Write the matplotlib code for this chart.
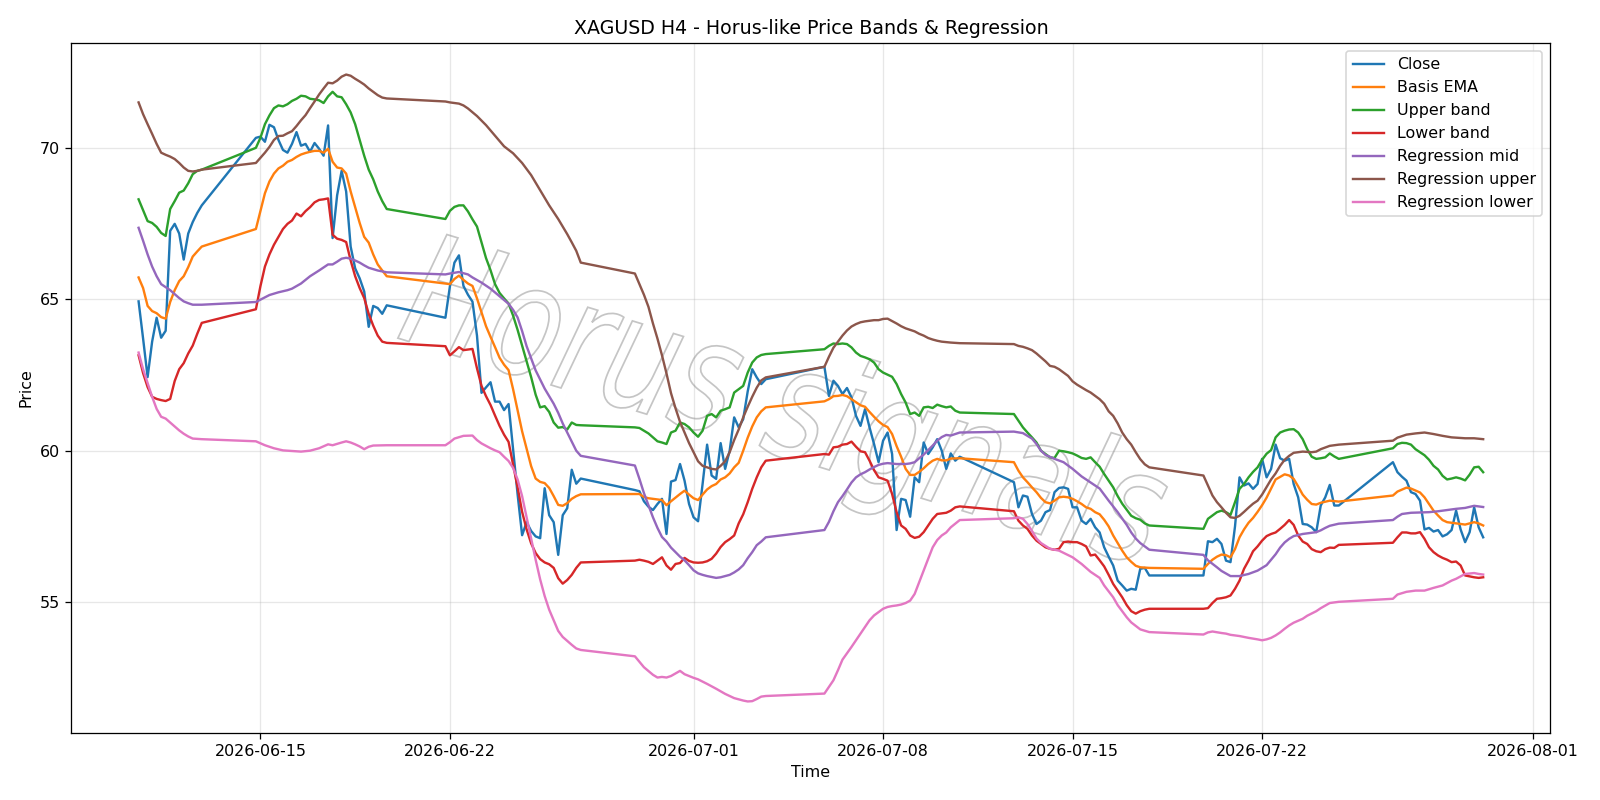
import numpy as np
import pandas as pd
import matplotlib
matplotlib.use('Agg')
import matplotlib.pyplot as plt
from matplotlib.textpath import TextPath
from matplotlib.patches import PathPatch
from matplotlib.font_manager import FontProperties
from matplotlib.transforms import Affine2D

# H4 sessions: first bar of each trading week and number of bars in it
week_start = ['2026-06-10 12:00', '2026-06-14 20:00', '2026-06-21 20:00', '2026-06-28 20:00',
              '2026-07-05 20:00', '2026-07-12 20:00', '2026-07-19 20:00', '2026-07-26 20:00']
week_bars = [15, 30, 31, 30, 31, 31, 31, 21]

# close, one value per bar
close = [
    64.93, 63.70, 62.43, 63.60, 64.39, 63.73, 63.96, 67.26, 67.49, 67.17, 66.31, 67.17, 67.55, 67.85, 68.10,
    70.33, 70.37, 70.20, 70.76, 70.68, 70.26, 69.93, 69.84, 70.13, 70.52, 70.07, 70.13, 69.87, 70.16, 69.97,
    69.74, 70.74, 67.02, 68.43, 69.24, 68.56, 66.74, 66.02, 65.69, 65.26, 64.09, 64.78, 64.71, 64.52, 64.80,
    64.39, 65.43, 66.21, 66.45, 65.44, 65.15, 64.92, 63.80, 61.91, 62.09, 62.26, 61.62, 61.62, 61.34, 61.54,
    60.06, 58.56, 57.21, 57.64, 57.35, 57.17, 57.11, 58.76, 57.87, 57.64, 56.56, 57.87, 58.10, 59.37, 58.91, 59.08,
    58.70, 58.66, 58.33, 58.15, 58.04, 58.24, 58.41, 57.25, 58.98, 59.03, 59.56, 59.01, 58.24, 57.80, 57.67,
    58.90, 60.20, 59.18, 59.07, 60.25, 59.40, 60.00, 61.10, 60.77, 61.04, 61.96, 62.69, 62.42, 62.20, 62.36,
    62.77, 61.81, 62.31, 62.14, 61.87, 62.07, 61.76, 61.15, 60.82, 61.37, 60.77, 60.22, 59.62, 60.33, 60.60,
    59.89, 57.38, 58.41, 58.37, 57.82, 59.12, 58.96, 60.27, 59.89, 60.11, 60.38, 60.00, 59.40, 59.91, 59.67, 59.80,
    58.96, 58.13, 58.52, 58.48, 57.91, 57.58, 57.69, 57.97, 58.04, 58.63, 58.77, 58.79, 58.74, 58.13, 58.13,
    57.69, 57.58, 57.75, 57.47, 57.30, 56.81, 56.50, 56.21, 55.71, 55.55, 55.38, 55.44, 55.41, 56.10, 56.13, 55.88,
    55.88, 57.01, 56.98, 57.09, 56.92, 56.37, 56.32, 57.50, 59.12, 58.85, 58.92, 58.74, 58.90, 59.73, 59.12,
    59.40, 60.20, 59.75, 59.67, 59.73, 58.90, 58.46, 57.58, 57.56, 57.47, 57.31, 58.19, 58.46, 58.87, 58.19, 58.19,
    59.62, 59.29, 59.14, 59.01, 58.63, 58.57, 58.35, 57.40, 57.45, 57.33, 57.38, 57.17, 57.24, 57.38, 58.02,
    57.40, 56.98, 57.31, 58.13, 57.47, 57.14,
]

# smoother series: (bar in week, value) per week
basis_ema = [
    [(0, 65.72), (1, 65.37), (2, 64.78), (3, 64.61), (4, 64.54), (5, 64.41), (6, 64.36), (7, 64.91), (8, 65.30),
     (9, 65.60), (10, 65.76), (11, 66.06), (12, 66.41), (13, 66.58), (14, 66.74)],
    [(0, 67.32), (1, 67.91), (2, 68.50), (3, 68.89), (4, 69.15), (5, 69.32), (6, 69.41), (7, 69.54), (8, 69.60),
     (9, 69.70), (10, 69.78), (11, 69.83), (12, 69.87), (13, 69.90), (14, 69.90), (15, 69.84), (16, 69.97),
     (17, 69.54), (18, 69.35), (19, 69.32), (20, 69.15), (21, 68.56), (22, 68.04), (23, 67.52), (24, 67.06),
     (25, 66.87), (26, 66.48), (27, 66.15), (28, 65.95), (29, 65.76)],
    [(0, 65.52), (1, 65.50), (2, 65.67), (3, 65.78), (4, 65.64), (5, 65.52), (6, 65.44), (7, 65.03), (8, 64.57),
     (9, 64.11), (10, 63.76), (11, 63.42), (12, 63.07), (13, 62.84), (14, 62.66), (15, 62.03), (16, 61.34),
     (17, 60.64), (18, 60.06), (19, 59.49), (20, 59.08), (21, 58.97), (22, 58.93), (23, 58.77), (24, 58.50),
     (25, 58.21), (26, 58.18), (27, 58.27), (28, 58.41), (29, 58.50), (30, 58.56)],
    [(0, 58.57), (1, 58.57), (2, 58.47), (3, 58.43), (4, 58.41), (5, 58.39), (6, 58.37), (7, 58.20), (8, 58.33),
     (9, 58.45), (10, 58.57), (11, 58.68), (12, 58.55), (13, 58.43), (14, 58.37), (15, 58.55), (16, 58.72),
     (17, 58.83), (18, 58.90), (19, 59.05), (20, 59.12), (21, 59.25), (22, 59.45), (23, 59.60), (24, 60.00),
     (25, 60.43), (26, 60.80), (27, 61.10), (28, 61.30), (29, 61.43)],
    [(0, 61.63), (1, 61.70), (2, 61.80), (3, 61.81), (4, 61.84), (5, 61.80), (6, 61.70), (7, 61.60), (8, 61.50),
     (9, 61.45), (10, 61.28), (11, 61.12), (12, 60.97), (13, 60.85), (14, 60.78), (15, 60.55), (16, 60.15),
     (17, 59.80), (18, 59.40), (19, 59.20), (20, 59.20), (21, 59.30), (22, 59.42), (23, 59.56), (24, 59.67),
     (25, 59.73), (26, 59.68), (27, 59.68), (28, 59.74), (30, 59.75)],
    [(0, 59.62), (1, 59.34), (2, 59.12), (3, 58.96), (4, 58.79), (5, 58.63), (6, 58.44), (7, 58.30), (8, 58.26),
     (9, 58.35), (10, 58.46), (11, 58.48), (12, 58.46), (13, 58.41), (14, 58.33), (15, 58.24), (16, 58.13),
     (17, 58.08), (18, 57.97), (19, 57.90), (20, 57.72), (21, 57.50), (22, 57.20), (23, 56.95), (24, 56.70),
     (25, 56.48), (26, 56.33), (27, 56.20), (28, 56.15), (30, 56.13)],
    [(0, 56.10), (1, 56.26), (2, 56.40), (3, 56.50), (4, 56.57), (5, 56.55), (6, 56.48), (7, 56.75), (8, 57.14),
     (9, 57.40), (10, 57.62), (11, 57.78), (12, 57.98), (13, 58.20), (14, 58.45), (15, 58.75), (16, 59.05),
     (18, 59.22), (19, 59.18), (20, 59.07), (21, 58.82), (22, 58.55), (23, 58.38), (24, 58.24), (25, 58.22),
     (26, 58.28), (28, 58.35), (30, 58.32)],
    [(0, 58.52), (1, 58.65), (3, 58.78), (4, 58.75), (6, 58.62), (7, 58.46), (8, 58.24), (9, 58.02), (10, 57.86),
     (11, 57.71), (12, 57.64), (14, 57.60), (16, 57.56), (17, 57.60), (18, 57.64), (19, 57.60), (20, 57.53)],
]

upper_band = [
    [(0, 68.30), (1, 67.94), (2, 67.58), (3, 67.52), (4, 67.39), (5, 67.19), (6, 67.09), (7, 67.98), (8, 68.24),
     (9, 68.52), (10, 68.59), (11, 68.83), (12, 69.13), (13, 69.24), (14, 69.28)],
    [(0, 70.00), (1, 70.33), (2, 70.78), (3, 71.07), (4, 71.31), (5, 71.40), (6, 71.37), (7, 71.44), (8, 71.55),
     (9, 71.62), (10, 71.72), (11, 71.70), (12, 71.62), (13, 71.60), (14, 71.57), (15, 71.48), (16, 71.70),
     (17, 71.85), (18, 71.70), (19, 71.67), (20, 71.44), (21, 71.17), (22, 70.78), (23, 70.26), (24, 69.74),
     (25, 69.28), (26, 68.96), (27, 68.56), (28, 68.24), (29, 67.98)],
    [(0, 67.65), (1, 67.92), (2, 68.05), (3, 68.10), (4, 68.10), (5, 67.90), (6, 67.64), (7, 67.40), (8, 66.88),
     (9, 66.36), (10, 65.96), (11, 65.50), (12, 65.21), (13, 65.03), (14, 64.86), (15, 64.46), (16, 63.99),
     (17, 63.47), (18, 62.95), (19, 62.43), (20, 61.85), (21, 61.43), (22, 61.47), (23, 61.28), (24, 60.93),
     (25, 60.76), (26, 60.78), (27, 60.70), (28, 60.93), (29, 60.85), (30, 60.84)],
    [(0, 60.77), (1, 60.75), (2, 60.66), (3, 60.57), (4, 60.44), (5, 60.31), (6, 60.27), (7, 60.22), (8, 60.60),
     (9, 60.66), (10, 60.93), (11, 60.88), (12, 60.77), (13, 60.60), (14, 60.46), (15, 60.66), (16, 61.15),
     (17, 61.21), (18, 61.10), (19, 61.32), (20, 61.37), (21, 61.43), (22, 61.92), (23, 62.03), (24, 62.14),
     (25, 62.58), (26, 62.91), (27, 63.08), (28, 63.16), (29, 63.19)],
    [(0, 63.35), (1, 63.46), (2, 63.54), (3, 63.52), (4, 63.54), (5, 63.52), (6, 63.41), (7, 63.24), (8, 63.13),
     (9, 63.08), (10, 63.02), (11, 62.91), (12, 62.69), (13, 62.58), (14, 62.51), (15, 62.44), (16, 62.20),
     (17, 61.87), (18, 61.59), (19, 61.21), (20, 61.26), (21, 61.15), (22, 61.43), (23, 61.45), (24, 61.41),
     (25, 61.52), (26, 61.47), (27, 61.43), (28, 61.46), (29, 61.32), (30, 61.26)],
    [(0, 61.21), (1, 60.99), (2, 60.77), (3, 60.60), (4, 60.44), (5, 60.27), (6, 60.00), (7, 59.89), (8, 59.78),
     (9, 59.76), (10, 60.00), (11, 59.98), (12, 59.95), (13, 59.91), (14, 59.84), (15, 59.76), (16, 59.73),
     (17, 59.78), (18, 59.62), (19, 59.47), (20, 59.23), (21, 59.01), (22, 58.79), (23, 58.50), (24, 58.25),
     (25, 58.05), (26, 57.85), (27, 57.77), (28, 57.72), (29, 57.60), (30, 57.53)],
    [(0, 57.42), (1, 57.75), (2, 57.86), (3, 57.97), (4, 58.02), (5, 57.97), (6, 57.88), (7, 58.30), (8, 58.74),
     (9, 58.90), (10, 59.12), (11, 59.30), (12, 59.45), (13, 59.70), (14, 59.90), (15, 60.02), (16, 60.44),
     (17, 60.60), (18, 60.66), (19, 60.70), (20, 60.71), (21, 60.60), (22, 60.38), (23, 60.05), (24, 59.80),
     (25, 59.73), (26, 59.75), (27, 59.78), (28, 59.91), (29, 59.81), (30, 59.73)],
    [(0, 60.08), (1, 60.22), (2, 60.26), (3, 60.25), (4, 60.20), (5, 60.05), (6, 59.95), (7, 59.85), (8, 59.70),
     (9, 59.50), (10, 59.38), (11, 59.17), (12, 59.05), (13, 59.08), (14, 59.12), (15, 59.08), (16, 59.02),
     (17, 59.21), (18, 59.45), (19, 59.47), (20, 59.29)],
]

lower_band = [
    [(0, 63.15), (1, 62.56), (2, 62.10), (3, 61.78), (4, 61.71), (5, 61.67), (6, 61.64), (7, 61.71), (8, 62.30),
     (9, 62.69), (10, 62.89), (11, 63.21), (12, 63.47), (13, 63.86), (14, 64.22)],
    [(0, 64.67), (1, 65.43), (2, 66.08), (3, 66.48), (4, 66.80), (5, 67.06), (6, 67.32), (7, 67.49), (8, 67.60),
     (9, 67.83), (10, 67.74), (11, 67.91), (12, 68.04), (13, 68.20), (14, 68.28), (15, 68.30), (16, 68.33),
     (17, 67.13), (18, 67.00), (19, 66.96), (20, 66.89), (21, 66.28), (22, 65.76), (23, 65.37), (24, 65.04),
     (25, 64.52), (26, 64.13), (27, 63.80), (28, 63.60), (29, 63.56)],
    [(0, 63.45), (1, 63.15), (2, 63.28), (3, 63.42), (4, 63.32), (5, 63.34), (6, 63.36), (7, 62.72), (8, 62.14),
     (9, 61.80), (10, 61.51), (11, 61.16), (12, 60.82), (13, 60.53), (14, 60.29), (15, 59.54), (16, 58.79),
     (17, 57.98), (18, 57.40), (19, 56.94), (20, 56.62), (21, 56.42), (22, 56.31), (23, 56.25), (24, 56.13),
     (25, 55.79), (26, 55.61), (27, 55.73), (28, 55.90), (29, 56.13), (30, 56.31)],
    [(0, 56.37), (1, 56.40), (2, 56.37), (3, 56.33), (4, 56.26), (5, 56.37), (6, 56.48), (7, 56.21), (8, 56.07),
     (9, 56.26), (10, 56.29), (11, 56.46), (12, 56.36), (13, 56.31), (14, 56.30), (15, 56.31), (16, 56.35),
     (17, 56.43), (18, 56.60), (19, 56.82), (20, 56.98), (21, 57.08), (22, 57.20), (23, 57.60), (24, 57.90),
     (25, 58.30), (26, 58.74), (27, 59.12), (28, 59.45), (29, 59.67)],
    [(0, 59.89), (1, 59.87), (2, 60.11), (3, 60.13), (4, 60.20), (5, 60.22), (6, 60.30), (7, 60.13), (8, 59.98),
     (9, 59.95), (10, 59.67), (11, 59.36), (12, 59.12), (13, 59.07), (14, 59.01), (15, 58.57), (16, 57.97),
     (17, 57.53), (18, 57.42), (19, 57.20), (20, 57.12), (21, 57.16), (22, 57.31), (23, 57.53), (24, 57.75),
     (25, 57.91), (26, 57.93), (27, 57.95), (28, 58.02), (29, 58.13), (30, 58.16)],
    [(0, 58.00), (1, 57.69), (2, 57.53), (3, 57.42), (4, 57.20), (5, 57.03), (6, 56.92), (7, 56.81), (8, 56.76),
     (9, 56.73), (10, 56.76), (11, 56.98), (12, 57.00), (13, 56.98), (14, 56.98), (15, 56.92), (16, 56.84),
     (17, 56.54), (18, 56.57), (19, 56.38), (20, 56.18), (21, 55.90), (22, 55.60), (23, 55.38), (24, 55.16),
     (25, 54.90), (26, 54.70), (27, 54.62), (28, 54.70), (29, 54.75), (30, 54.78)],
    [(0, 54.78), (1, 54.80), (2, 54.97), (3, 55.11), (4, 55.13), (5, 55.16), (6, 55.22), (7, 55.44), (8, 55.71),
     (9, 56.10), (10, 56.37), (11, 56.68), (12, 56.84), (13, 57.03), (14, 57.18), (15, 57.25), (16, 57.30),
     (17, 57.42), (18, 57.55), (19, 57.71), (20, 57.55), (21, 57.20), (22, 57.00), (23, 56.92), (24, 56.75),
     (25, 56.68), (26, 56.65), (27, 56.75), (28, 56.80), (29, 56.79), (30, 56.89)],
    [(0, 56.96), (1, 57.14), (2, 57.30), (3, 57.30), (4, 57.27), (5, 57.27), (6, 57.31), (7, 57.09), (8, 56.81),
     (9, 56.65), (10, 56.54), (11, 56.46), (12, 56.40), (13, 56.32), (14, 56.34), (15, 56.21), (16, 55.88),
     (17, 55.85), (18, 55.82), (19, 55.80), (20, 55.82)],
]

reg_mid = [
    [(0, 67.36), (1, 66.93), (2, 66.48), (3, 66.08), (4, 65.76), (5, 65.50), (6, 65.40), (7, 65.30), (8, 65.17),
     (9, 65.04), (10, 64.93), (11, 64.87), (12, 64.82), (14, 64.82)],
    [(0, 64.91), (3, 65.14), (5, 65.23), (7, 65.30), (8, 65.35), (10, 65.52), (12, 65.76), (14, 65.95),
     (16, 66.15), (17, 66.15), (18, 66.24), (19, 66.34), (20, 66.37), (21, 66.34), (22, 66.28), (23, 66.21),
     (24, 66.12), (25, 66.04), (27, 65.95), (29, 65.89)],
    [(0, 65.82), (1, 65.85), (3, 65.90), (5, 65.82), (6, 65.72), (8, 65.55), (10, 65.35), (12, 65.10),
     (14, 64.85), (15, 64.65), (16, 64.40), (17, 63.95), (18, 63.45), (19, 63.05), (20, 62.65), (21, 62.35),
     (22, 62.05), (23, 61.80), (24, 61.55), (25, 61.25), (26, 60.90), (27, 60.60), (28, 60.30), (29, 60.00),
     (30, 59.83)],
    [(0, 59.51), (1, 59.07), (2, 58.60), (3, 58.20), (4, 57.80), (5, 57.45), (6, 57.15), (7, 57.00), (8, 56.80),
     (9, 56.65), (10, 56.50), (11, 56.38), (12, 56.22), (13, 56.05), (14, 55.95), (15, 55.90), (16, 55.86),
     (18, 55.80), (19, 55.82), (21, 55.90), (22, 55.98), (23, 56.08), (24, 56.22), (25, 56.45), (26, 56.65),
     (27, 56.88), (28, 57.00), (29, 57.14)],
    [(0, 57.38), (1, 57.65), (2, 58.00), (3, 58.30), (4, 58.50), (5, 58.72), (6, 58.95), (7, 59.12), (8, 59.22),
     (9, 59.29), (10, 59.38), (11, 59.46), (12, 59.53), (13, 59.57), (14, 59.59), (16, 59.56), (18, 59.56),
     (19, 59.58), (20, 59.62), (21, 59.75), (22, 59.87), (23, 60.02), (24, 60.17), (25, 60.33), (26, 60.45),
     (27, 60.52), (28, 60.50), (30, 60.60)],
    [(0, 60.63), (2, 60.58), (4, 60.40), (5, 60.22), (6, 60.00), (7, 59.86), (9, 59.73), (11, 59.62),
     (13, 59.40), (15, 59.15), (17, 58.95), (19, 58.75), (21, 58.35), (23, 57.97), (25, 57.55), (26, 57.30),
     (27, 57.10), (28, 56.95), (30, 56.73)],
    [(0, 56.56), (1, 56.38), (3, 56.15), (4, 56.03), (6, 55.86), (8, 55.86), (10, 55.93), (12, 56.04),
     (14, 56.22), (15, 56.40), (16, 56.58), (17, 56.80), (18, 56.97), (19, 57.09), (20, 57.18), (22, 57.25),
     (24, 57.29), (25, 57.31), (26, 57.37), (27, 57.45), (28, 57.52), (30, 57.59)],
    [(0, 57.71), (1, 57.82), (2, 57.91), (4, 57.95), (6, 57.96), (8, 57.97), (10, 58.00), (12, 58.04),
     (14, 58.08), (16, 58.11), (18, 58.18), (19, 58.16), (20, 58.14)],
]

reg_upper = [
    [(0, 71.50), (1, 71.11), (2, 70.78), (3, 70.46), (4, 70.13), (5, 69.84), (6, 69.77), (7, 69.71), (8, 69.63),
     (9, 69.50), (10, 69.35), (11, 69.24), (12, 69.22), (13, 69.24), (14, 69.28)],
    [(0, 69.50), (1, 69.67), (2, 69.84), (3, 70.03), (4, 70.26), (5, 70.39), (6, 70.40), (7, 70.48), (8, 70.55),
     (9, 70.72), (10, 70.91), (11, 71.08), (12, 71.31), (13, 71.53), (14, 71.76), (15, 71.96), (16, 72.15),
     (17, 72.13), (18, 72.22), (19, 72.35), (20, 72.42), (21, 72.38), (22, 72.28), (23, 72.19), (24, 72.09),
     (25, 71.96), (26, 71.85), (27, 71.74), (28, 71.66), (29, 71.63)],
    [(0, 71.53), (1, 71.50), (2, 71.48), (3, 71.46), (4, 71.40), (5, 71.30), (7, 71.05), (9, 70.75),
     (11, 70.40), (13, 70.05), (15, 69.82), (17, 69.50), (19, 69.10), (21, 68.60), (23, 68.10), (25, 67.65),
     (27, 67.15), (28, 66.88), (29, 66.60), (30, 66.21)],
    [(0, 65.85), (1, 65.50), (2, 65.15), (3, 64.75), (4, 64.20), (5, 63.70), (6, 63.15), (7, 62.55), (8, 61.90),
     (9, 61.40), (10, 60.95), (11, 60.60), (12, 60.25), (13, 59.95), (14, 59.65), (15, 59.50), (17, 59.40),
     (18, 59.38), (19, 59.50), (20, 59.65), (21, 59.95), (22, 60.35), (23, 60.70), (24, 61.10), (25, 61.45),
     (26, 61.78), (27, 62.08), (28, 62.32), (29, 62.42)],
    [(0, 62.77), (1, 63.10), (2, 63.40), (3, 63.60), (4, 63.80), (5, 63.97), (6, 64.10), (7, 64.18), (8, 64.24),
     (9, 64.27), (10, 64.29), (11, 64.31), (12, 64.31), (13, 64.35), (14, 64.36), (15, 64.28), (16, 64.20),
     (17, 64.11), (18, 64.04), (19, 63.99), (20, 63.94), (21, 63.86), (22, 63.80), (23, 63.72), (24, 63.67),
     (25, 63.63), (26, 63.60), (28, 63.57), (30, 63.55)],
    [(0, 63.52), (1, 63.46), (2, 63.43), (3, 63.38), (4, 63.32), (5, 63.21), (6, 63.08), (7, 62.95), (8, 62.80),
     (9, 62.77), (10, 62.69), (11, 62.58), (12, 62.47), (13, 62.29), (14, 62.18), (15, 62.09), (16, 62.00),
     (17, 61.92), (18, 61.81), (19, 61.70), (20, 61.55), (21, 61.30), (22, 61.15), (23, 60.90), (24, 60.60),
     (25, 60.38), (26, 60.20), (27, 59.95), (28, 59.72), (29, 59.55), (30, 59.45)],
    [(0, 59.18), (1, 58.85), (2, 58.52), (3, 58.30), (4, 58.13), (5, 57.95), (6, 57.80), (7, 57.78), (8, 57.85),
     (9, 57.98), (10, 58.12), (11, 58.25), (12, 58.35), (13, 58.55), (14, 58.80), (15, 59.05), (16, 59.25),
     (17, 59.50), (18, 59.70), (19, 59.83), (20, 59.93), (22, 59.97), (24, 59.95), (25, 59.97), (26, 60.05),
     (28, 60.16), (30, 60.20)],
    [(0, 60.33), (1, 60.43), (3, 60.53), (5, 60.57), (7, 60.60), (9, 60.55), (11, 60.49), (13, 60.44),
     (16, 60.41), (18, 60.41), (20, 60.38)],
]

reg_lower = [
    [(0, 63.24), (1, 62.69), (2, 62.23), (3, 61.78), (4, 61.38), (5, 61.12), (6, 61.06), (7, 60.93), (8, 60.80),
     (9, 60.67), (10, 60.56), (11, 60.47), (12, 60.40), (14, 60.38)],
    [(0, 60.31), (2, 60.18), (4, 60.08), (6, 60.01), (8, 59.99), (10, 59.97), (12, 60.00), (14, 60.08),
     (16, 60.21), (17, 60.18), (19, 60.27), (20, 60.31), (21, 60.27), (22, 60.21), (23, 60.14), (24, 60.05),
     (25, 60.13), (26, 60.17), (29, 60.18)],
    [(0, 60.18), (1, 60.28), (2, 60.40), (4, 60.49), (6, 60.50), (7, 60.35), (8, 60.24), (10, 60.08),
     (11, 60.01), (12, 59.95), (13, 59.80), (14, 59.66), (15, 59.43), (16, 59.05), (17, 58.50), (18, 57.80),
     (19, 57.10), (20, 56.40), (21, 55.75), (22, 55.20), (23, 54.75), (24, 54.40), (25, 54.05), (26, 53.85),
     (27, 53.72), (28, 53.59), (29, 53.47), (30, 53.42)],
    [(0, 53.21), (2, 52.85), (4, 52.60), (5, 52.51), (6, 52.53), (7, 52.51), (8, 52.56), (10, 52.73),
     (11, 52.62), (13, 52.50), (14, 52.45), (16, 52.30), (18, 52.14), (20, 51.97), (22, 51.83), (24, 51.75),
     (25, 51.72), (26, 51.73), (27, 51.80), (28, 51.88), (29, 51.90)],
    [(0, 51.98), (1, 52.20), (2, 52.42), (3, 52.75), (4, 53.10), (6, 53.52), (7, 53.74), (8, 53.96), (9, 54.18),
     (10, 54.40), (11, 54.56), (13, 54.78), (14, 54.84), (15, 54.87), (16, 54.89), (17, 54.92), (18, 54.97),
     (19, 55.05), (20, 55.27), (21, 55.66), (22, 56.04), (23, 56.43), (24, 56.81), (25, 57.05), (26, 57.20),
     (27, 57.30), (28, 57.47), (30, 57.71)],
    [(0, 57.77), (1, 57.80), (2, 57.75), (3, 57.58), (4, 57.35), (5, 57.10), (6, 56.95), (8, 56.76), (10, 56.70),
     (13, 56.48), (15, 56.26), (17, 56.00), (19, 55.80), (20, 55.55), (22, 55.16), (23, 54.90), (25, 54.50),
     (26, 54.33), (28, 54.10), (30, 54.01)],
    [(0, 53.93), (1, 54.00), (2, 54.03), (4, 53.98), (5, 53.96), (6, 53.92), (8, 53.88), (10, 53.82),
     (12, 53.77), (13, 53.74), (14, 53.77), (15, 53.82), (16, 53.90), (17, 54.00), (18, 54.12), (19, 54.23),
     (20, 54.32), (22, 54.45), (23, 54.55), (25, 54.70), (26, 54.80), (28, 54.97), (30, 55.01)],
    [(0, 55.11), (1, 55.25), (3, 55.34), (5, 55.38), (7, 55.38), (9, 55.47), (11, 55.55), (13, 55.71),
     (14, 55.77), (15, 55.85), (16, 55.93), (18, 55.96), (19, 55.93), (20, 55.91)],
]

# bar timestamps
times = pd.DatetimeIndex(np.concatenate(
    [pd.date_range(s, periods=n, freq='4h').values for s, n in zip(week_start, week_bars)]))
week_offset = np.cumsum([0] + week_bars[:-1])


def knots(weeks):
    idx = [off + j for off, wk in zip(week_offset, weeks) for j, _ in wk]
    vals = [v for wk in weeks for _, v in wk]
    return times[idx], vals


DPI = 1600 / 14
fig, ax = plt.subplots(figsize=(14, 7), dpi=DPI)

ax.plot(times, close, label='Close', lw=1.5)
for name, series in [('Basis EMA', basis_ema), ('Upper band', upper_band), ('Lower band', lower_band),
                     ('Regression mid', reg_mid), ('Regression upper', reg_upper),
                     ('Regression lower', reg_lower)]:
    t, v = knots(series)
    ax.plot(t, v, label=name, lw=1.5)

ax.set_title('XAGUSD H4 - Horus-like Price Bands & Regression')
ax.set_xlabel('Time')
ax.set_ylabel('Price')
ax.grid(True, alpha=0.3)
ax.legend(loc='upper right')

fig.subplots_adjust(left=0.0446, right=0.969, top=0.946, bottom=0.084)

# watermark, outlined text
tp = TextPath((0, 0), 'Horus signals', size=70, prop=FontProperties(family='DejaVu Sans', style='italic'))
bb = tp.get_extents()
tr = (Affine2D().translate(-(bb.x0 + bb.x1) / 2, -(bb.y0 + bb.y1) / 2).scale(1.05, 1.4).rotate_deg(-17)
      .scale(1 / 72).translate(783 / DPI, (800 - 411) / DPI) + fig.dpi_scale_trans)
ax.add_artist(PathPatch(tp, transform=tr, facecolor='none', edgecolor='gray', lw=1.1, alpha=0.45, zorder=1.6))

fig.savefig('out.png', dpi=DPI)
